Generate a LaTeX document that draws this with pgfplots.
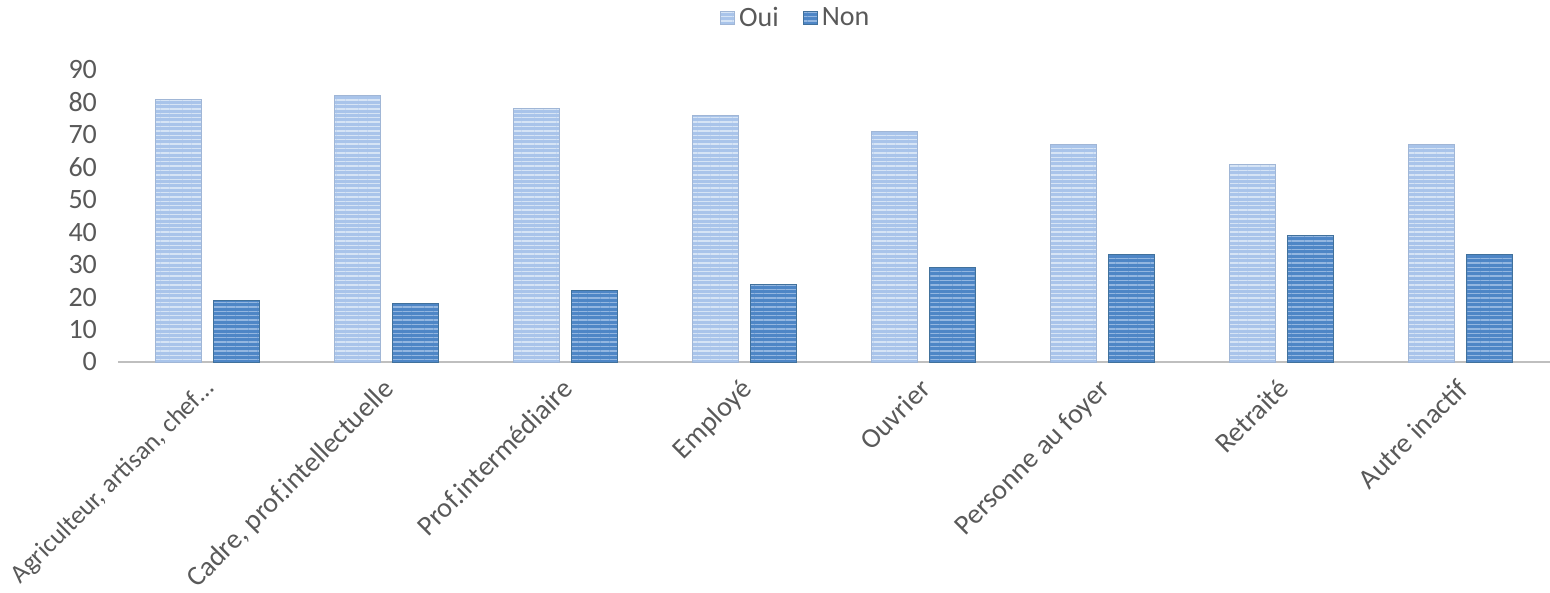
\documentclass[border=0pt]{standalone}
\usepackage{pgfplots}
\pgfplotsset{compat=1.18}
\usepackage{fontspec}
\setmainfont{Carlito}
\usetikzlibrary{patterns.meta}

\definecolor{txt}{HTML}{595959}
\definecolor{axisgray}{HTML}{BFBFBF}
\definecolor{ouiFill}{HTML}{A9C4EA}
\definecolor{ouiLine}{HTML}{D6E4F5}
\definecolor{ouiEdge}{HTML}{A0B6D6}
\definecolor{nonFill}{HTML}{4E86C6}
\definecolor{nonLine}{HTML}{93B6E0}
\definecolor{nonEdge}{HTML}{41719C}

% share of each group answering yes / no
\pgfplotstableread{
x oui non
0 81 19
1 82 18
2 78 22
3 76 24
4 71 29
5 67 33
6 61 39
7 67 33
}\datatable

\begin{document}
\begin{tikzpicture}
\useasboundingbox (-59pt,-115.5pt) rectangle (716pt,181pt);
\begin{axis}[
  at={(0,0)}, anchor=south west,
  scale only axis,
  width=716pt, height=146pt,
  ybar, bar width=23pt,
  xmin=-0.5, xmax=7.5,
  ymin=0, ymax=90,
  ytick={0,10,...,90},
  xtick=data,
  xticklabels={{\fontsize{13pt}{15pt}\selectfont Agriculteur, artisan, chef…},{Cadre, prof.intellectuelle},{Prof.intermédiaire},{Employé},{Ouvrier},{Personne au foyer},{Retraité},{Autre inactif}},
  separate axis lines,
  axis x line*=bottom,
  axis y line*=left,
  x axis line style={draw=axisgray, line width=1.3pt, -},
  y axis line style={draw=none},
  major tick length=0pt,
  tick style={draw=none},
  font=\fontsize{14pt}{16pt}\selectfont,
  tick label style={text=txt},
  /pgf/number format/assume math mode=true,
  yticklabel style={anchor=east, xshift=-7pt},
  % shifts are taken along the rotated label
  xticklabel style={rotate=45, anchor=north east, inner sep=0pt, xshift=-7pt, yshift=-3.4pt},
  legend style={at={(0.474,1.178)}, anchor=center, draw=none, fill=none,
    legend columns=2, text=txt, font=\fontsize{14pt}{16pt}\selectfont,
    /tikz/every even column/.append style={column sep=10pt}},
  legend image code/.code={\draw[#1] (0pt,-3.2pt) rectangle (7pt,3.2pt);},
]
\addplot[bar shift=-14.3pt, fill=ouiFill, draw=ouiEdge, line width=0.5pt,
  postaction={pattern={Lines[angle=0,distance=2.2pt,line width=0.7pt]}, pattern color=ouiLine}]
  table[x=x, y=oui] {\datatable};
\addplot[bar shift=14.3pt, fill=nonFill, draw=nonEdge, line width=0.5pt,
  postaction={pattern={Lines[angle=0,distance=2.2pt,line width=0.7pt]}, pattern color=nonLine}]
  table[x=x, y=non] {\datatable};
\legend{Oui, Non}
\end{axis}
\end{tikzpicture}
\end{document}
